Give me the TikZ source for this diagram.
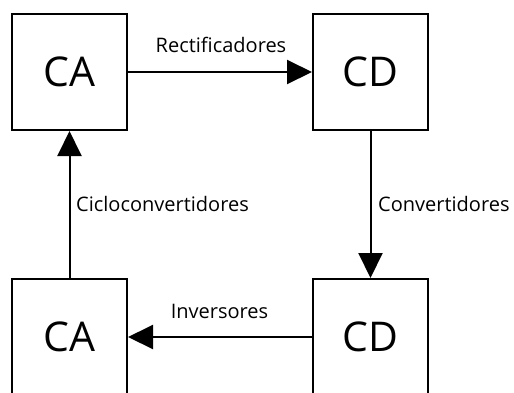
\documentclass[tikz,border=0pt]{standalone}
\usepackage{fontspec}
\setmainfont{Open Sans}
\usetikzlibrary{arrows.meta}
\begin{document}
\begin{tikzpicture}[x=1pt,y=-1pt,
 blk/.style={draw,line width=2pt,minimum width=115pt,minimum height=116pt,inner sep=0pt,font=\fontsize{41}{48}\selectfont},
 conn/.style={line width=2pt,-{Triangle[length=25pt,width=24pt]}},
 lbl/.style={font=\fontsize{20}{24}\selectfont,inner sep=0pt}]
\useasboundingbox (0,0) rectangle (514,392);
\clip (0,0) rectangle (514,392);
\node[blk] (ca1) at (69.5,72) {\raisebox{1pt}{CA}};
\node[blk] (cd1) at (370.5,72) {\raisebox{1pt}{CD}};
\node[blk] (cd2) at (370.5,337) {\raisebox{1pt}{CD}};
\node[blk] (ca2) at (69.5,337) {\raisebox{1pt}{CA}};
\draw[conn] (ca1) -- (cd1);
\draw[conn] (cd1) -- (cd2);
\draw[conn] (cd2) -- (ca2);
\draw[conn] (ca2) -- (ca1);
\node[lbl,anchor=base] (l1) at (221,52.7) {Rectificadores};
\node[lbl,anchor=base west] (l2) at (378,211.7) {Convertidores};
\node[lbl,anchor=base west] (l3) at (76,211.7) {Cicloconvertidores};
\node[lbl,anchor=base] (l4) at (219.5,318) {Inversores};
\end{tikzpicture}
\end{document}
